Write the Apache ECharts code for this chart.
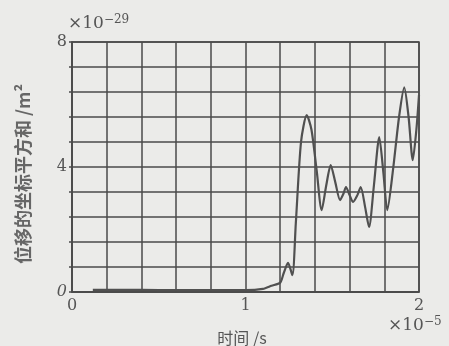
<!DOCTYPE html>
<html><head><meta charset="utf-8">
<script src="https://cdn.jsdelivr.net/npm/echarts@6/dist/echarts.min.js"></script>
<style>html,body{margin:0;padding:0;background:#ebebe9}#c{width:449px;height:346px}</style>
</head><body><div id="c"></div>
<script>
// time (×1e-5 s)
var timeValues = [0.12, 0.3, 0.5, 0.7, 0.9, 1.0, 1.1, 1.15, 1.2, 1.22, 1.245, 1.27, 1.29, 1.32, 1.353, 1.38, 1.41, 1.439, 1.465, 1.491, 1.518, 1.545, 1.565, 1.579, 1.60, 1.62, 1.645, 1.664, 1.69, 1.712, 1.74, 1.771, 1.795, 1.817, 1.85, 1.885, 1.915, 1.94, 1.964, 1.985, 2.0];
// sum of squared displacement (×1e-29 m²)
var sqValues  = [0.07, 0.07, 0.06, 0.06, 0.06, 0.06, 0.1, 0.2, 0.3, 0.6, 0.93, 0.54, 2.2, 4.8, 5.66, 5.2, 3.9, 2.62, 3.4, 4.06, 3.5, 2.94, 3.15, 3.36, 3.1, 2.88, 3.1, 3.36, 2.7, 2.08, 3.4, 4.96, 3.8, 2.62, 3.9, 5.6, 6.55, 5.6, 4.22, 5.2, 6.3];
var xTickLabels = ['0', '1', '2'];
var yTickLabels = ['0', '4', '8'];

var lineColor = '#4a4a4a';
var serif = '"DejaVu Serif","Liberation Serif",serif';
var cjk = '"Noto Sans CJK SC",sans-serif';
var chart = echarts.init(document.getElementById('c'));
var data = timeValues.map(function (t, i) { return [t, sqValues[i]]; });
function near(v, list) {
  for (var i = 0; i < list.length; i++) { if (Math.abs(v - parseFloat(list[i])) < 1e-6) return list[i]; }
  return null;
}
chart.setOption({
  backgroundColor: '#ebebe9',
  animation: false,
  grid: { left: 72, right: 30, top: 42, bottom: 54, show: true, borderColor: lineColor, borderWidth: 1.5 },
  xAxis: {
    type: 'value', min: 0, max: 2, interval: 0.2,
    axisLine: { show: true, lineStyle: { color: lineColor, width: 1.5 } },
    axisTick: { show: false },
    splitLine: { show: true, lineStyle: { color: lineColor, width: 1.5 } },
    axisLabel: {
      margin: 6, color: '#555', fontFamily: serif, fontSize: 16,
      formatter: function (v) { var s = near(v, xTickLabels); return s === null ? '' : s; }
    }
  },
  yAxis: {
    type: 'value', min: 0, max: 8, interval: 0.8,
    axisLine: { show: true, lineStyle: { color: lineColor, width: 1.5 } },
    axisTick: { show: true, length: 3, inside: false, lineStyle: { color: lineColor, width: 1.5 } },
    splitLine: { show: true, lineStyle: { color: lineColor, width: 1.5 } },
    axisLabel: {
      margin: 5, color: '#555', fontFamily: serif, fontSize: 16,
      formatter: function (v) { var s = near(v, yTickLabels); if (s === null) return ''; return s === '0' ? '{i|0}' : s; },
      rich: { i: { fontStyle: 'italic', fontFamily: serif, fontSize: 16, color: '#555' } }
    }
  },
  series: [{
    type: 'line', data: data, smooth: 0.25, showSymbol: false,
    lineStyle: { color: '#505050', width: 2.2 }
  }],
  graphic: [
    { type: 'text', left: 68, top: 14, style: { rich: { a: { fontFamily: serif, fontSize: 17, fill: '#555' }, b: { fontFamily: serif, fontSize: 12, fill: '#555', padding: [0, 0, 8, 0] } }, text: '{a|×10}{b|−29}' } },
    { type: 'text', left: 388, top: 316, style: { rich: { a: { fontFamily: serif, fontSize: 17, fill: '#555' }, b: { fontFamily: serif, fontSize: 12, fill: '#555', padding: [0, 0, 8, 0] } }, text: '{a|×10}{b|−5}' } },
    { type: 'text', x: 242, y: 338, style: { text: '时间 /s', font: '16px ' + cjk, fill: '#555', align: 'center', verticalAlign: 'middle' } },
    { type: 'text', x: 23, y: 174, rotation: Math.PI / 2, style: { text: '位移的坐标平方和 /m²', font: 'bold 18px ' + cjk, fill: '#666', align: 'center', verticalAlign: 'middle' } }
  ]
});
</script></body></html>
